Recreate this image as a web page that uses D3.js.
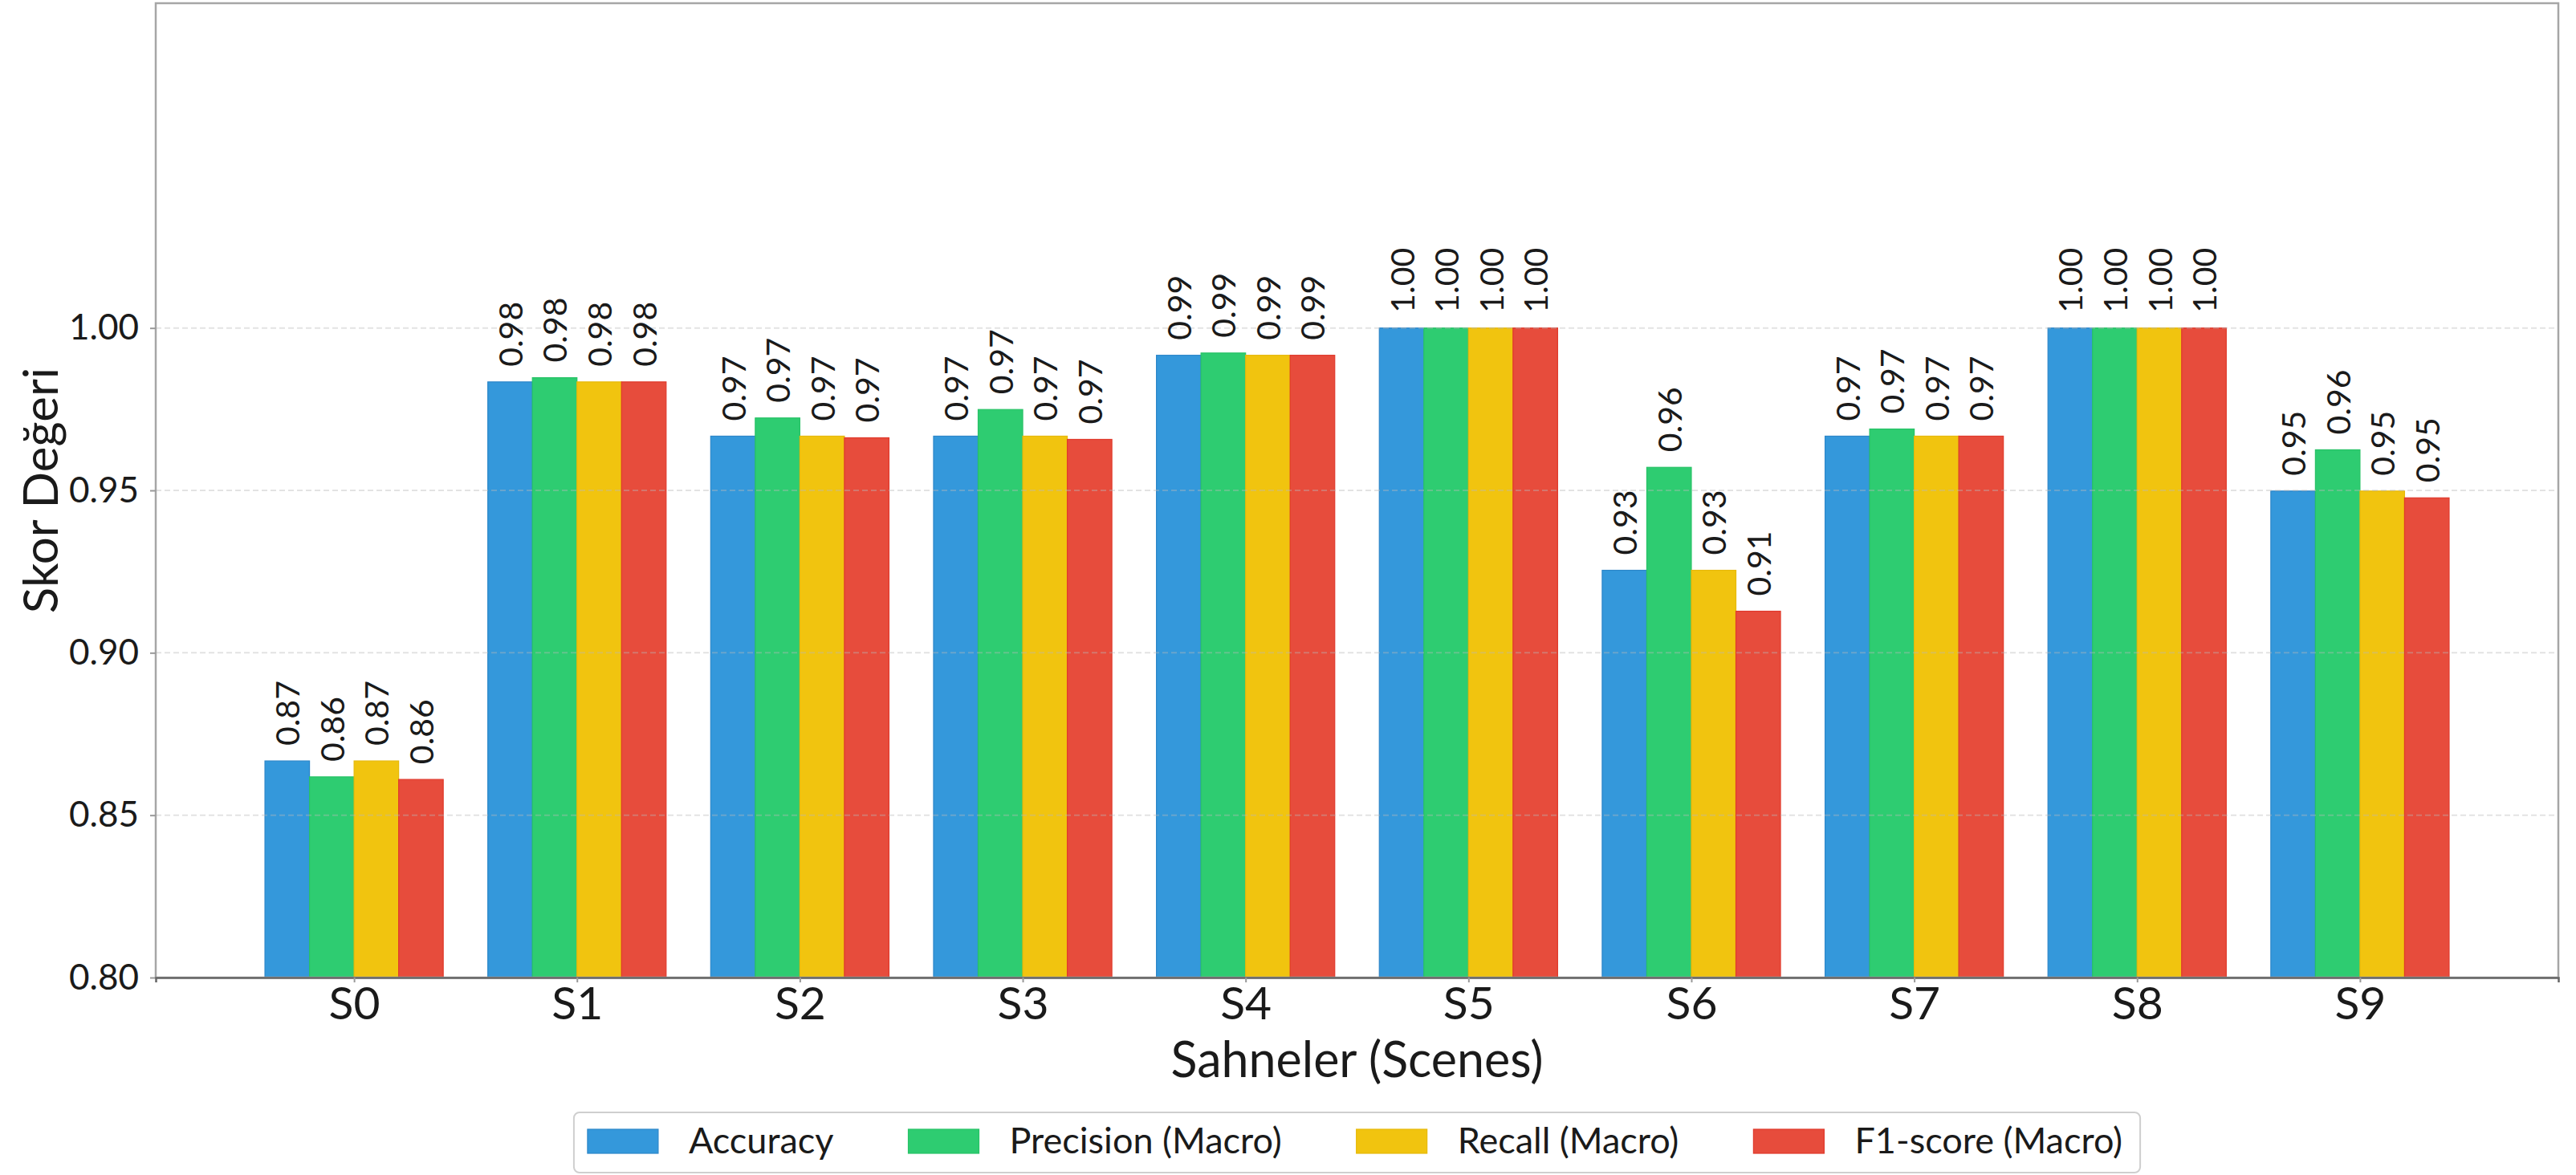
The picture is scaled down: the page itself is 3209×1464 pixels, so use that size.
<!DOCTYPE html>
<html>
<head>
<meta charset="utf-8">
<script src="https://cdn.jsdelivr.net/npm/d3@7"></script>
<style>
  html, body { margin: 0; padding: 0; background: #fff; }
  svg { display: block; font-family: Lato, "Noto Sans", sans-serif; }
</style>
</head>
<body>
<svg id="chart" width="3209" height="1464"></svg>
<script>
// Scene labels along the x axis
const scenes = ["S0", "S1", "S2", "S3", "S4", "S5", "S6", "S7", "S8", "S9"];

// Metric names (legend order) and bar colours
const metrics = ["Accuracy", "Precision (Macro)", "Recall (Macro)", "F1-score (Macro)"];
const colors = ["#3498db", "#2ecc71", "#f1c40f", "#e74c3c"];
const edgeColors = ["#2c86c9", "#27c266", "#e6b90b", "#e0392b"];

// Scores per scene for each metric
const accuracy  = [0.8667, 0.9834, 0.9667, 0.9667, 0.9916, 1.0000, 0.9254, 0.9667, 1.0000, 0.9498];
const precision = [0.8618, 0.9847, 0.9723, 0.9749, 0.9923, 1.0000, 0.9571, 0.9689, 1.0000, 0.9625];
const recall    = [0.8667, 0.9834, 0.9667, 0.9667, 0.9916, 1.0000, 0.9254, 0.9667, 1.0000, 0.9498];
const f1score   = [0.8610, 0.9834, 0.9662, 0.9657, 0.9916, 1.0000, 0.9128, 0.9667, 1.0000, 0.9477];

// Y axis ticks
const yTicks = [0.80, 0.85, 0.90, 0.95, 1.00];

const series = [accuracy, precision, recall, f1score];

const svg = d3.select("#chart");
const plot = { left: 194, right: 3187, top: 4, bottom: 1218 };

// Categories sit at integer positions; axis limits carry the usual padding
const x = d3.scaleLinear().domain([-0.89, scenes.length - 1 + 0.89]).range([plot.left, plot.right]);
const y = d3.scaleLinear().domain([0.80, 1.10]).range([plot.bottom, plot.top]);
const barW = 0.2;
const offsets = [-0.3, -0.1, 0.1, 0.3];

// Bars
const barsG = svg.append("g");
series.forEach((vals, m) => {
  barsG.selectAll(null)
    .data(vals)
    .enter().append("rect")
    .attr("x", (d, i) => x(i + offsets[m] - barW / 2))
    .attr("width", x(barW) - x(0))
    .attr("y", d => y(d))
    .attr("height", d => y(0.80) - y(d))
    .attr("fill", colors[m])
    .attr("stroke", edgeColors[m])
    .attr("stroke-width", 1.2);
});

// Horizontal grid (dashed, faint, drawn over the bars)
svg.append("g")
  .selectAll("line")
  .data(yTicks)
  .enter().append("line")
  .attr("x1", plot.left).attr("x2", plot.right)
  .attr("y1", d => y(d)).attr("y2", d => y(d))
  .attr("stroke", "#b8b8b8")
  .attr("stroke-opacity", 0.4)
  .attr("stroke-width", 2)
  .attr("stroke-dasharray", "7,4");

// Value labels, rotated, above each bar
const labelsG = svg.append("g").attr("font-size", 41).attr("fill", "#1a1a1a");
series.forEach((vals, m) => {
  labelsG.selectAll(null)
    .data(vals)
    .enter().append("text")
    .attr("transform", (d, i) => `translate(${x(i + offsets[m])},${y(d) - 19}) rotate(-90)`)
    .attr("text-anchor", "start")
    .attr("dominant-baseline", "central")
    .text(d => d.toFixed(2));
});

// Frame
svg.append("rect")
  .attr("x", plot.left).attr("y", plot.top)
  .attr("width", plot.right - plot.left).attr("height", plot.bottom - plot.top)
  .attr("fill", "none").attr("stroke", "#a6a6a6").attr("stroke-width", 2.5);

// Y axis
const yAxis = d3.axisLeft(y).tickValues(yTicks).tickFormat(d3.format(".2f")).tickSize(7).tickPadding(14);
const yg = svg.append("g").attr("transform", `translate(${plot.left},0)`).call(yAxis);
yg.select(".domain").remove();
yg.selectAll(".tick line").attr("stroke", "#999").attr("stroke-width", 2);
yg.selectAll(".tick text").attr("font-size", 44).attr("fill", "#1a1a1a").attr("font-family", "Lato, sans-serif");

// X axis
const xAxis = d3.axisBottom(x).tickValues(d3.range(scenes.length)).tickFormat(i => scenes[i]).tickSize(6).tickPadding(6);
const xg = svg.append("g").attr("transform", `translate(0,${plot.bottom})`).call(xAxis);
xg.select(".domain").attr("stroke", "#666").attr("stroke-width", 2.5);
xg.selectAll(".tick line").attr("stroke", "#999").attr("stroke-width", 2);
xg.selectAll(".tick text").attr("font-size", 57).attr("fill", "#1a1a1a").attr("font-family", "Lato, sans-serif");

// Axis titles
svg.append("text")
  .attr("x", (plot.left + plot.right) / 2).attr("y", 1342)
  .attr("text-anchor", "middle").attr("font-size", 61).attr("fill", "#1a1a1a")
  .text("Sahneler (Scenes)");

svg.append("text")
  .attr("transform", `translate(72,${(plot.top + plot.bottom) / 2}) rotate(-90)`)
  .attr("text-anchor", "middle").attr("font-size", 60).attr("fill", "#1a1a1a")
  .text("Skor Değeri");

// Legend: one row, four entries
const legend = svg.append("g");
const legendBox = legend.append("rect")
  .attr("rx", 7).attr("ry", 7)
  .attr("fill", "#fff").attr("stroke", "#cfcfcf").attr("stroke-width", 2);
const swW = 88, swH = 30, swGap = 38, colGap = 93, padL = 17, padR = 22;
let cx = 0;
const starts = [];
const items = metrics.map((name, m) => {
  const g = legend.append("g");
  g.append("rect").attr("x", 0).attr("y", 0).attr("width", swW).attr("height", swH)
    .attr("fill", colors[m]).attr("stroke", edgeColors[m]).attr("stroke-width", 1.2);
  const t = g.append("text").attr("x", swW + swGap).attr("y", swH).attr("font-size", 45).attr("fill", "#1a1a1a").text(name);
  const w = t.node().getComputedTextLength();
  starts.push(cx);
  cx += swW + swGap + w + (m < metrics.length - 1 ? colGap : 0);
  return g;
});
const legendW = padL + cx + padR;
const legendX = (plot.left + plot.right) / 2 - legendW / 2;
const legendTop = 1386, legendH = 75;
legendBox.attr("x", legendX).attr("y", legendTop).attr("width", legendW).attr("height", legendH);
items.forEach((g, m) => {
  g.attr("transform", `translate(${legendX + padL + starts[m]},${legendTop + 21})`);
});
</script>
</body>
</html>
